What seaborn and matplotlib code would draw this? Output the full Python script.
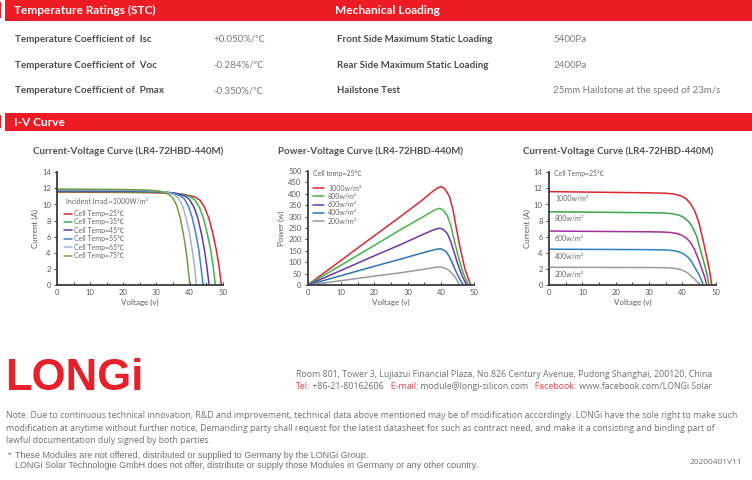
import matplotlib
matplotlib.use('Agg')
import matplotlib.pyplot as plt
import seaborn as sns
import pandas as pd
from matplotlib.patches import Rectangle
from matplotlib.ticker import MultipleLocator

# Tabele sa parametrima
temp_params = ['Temperature Coefficient of  Isc', 'Temperature Coefficient of  Voc',
               'Temperature Coefficient of  Pmax']
temp_values = ['+0.050%/℃', '-0.284%/℃', '-0.350%/℃']
mech_params = ['Front Side Maximum Static Loading', 'Rear Side Maximum Static Loading', 'Hailstone Test']
mech_values = ['5400Pa', '2400Pa', '25mm Hailstone at the speed of 23m/s']

# I-V kriva za razlicite temperature (ocitano sa slike)
temp_labels = ['Cell Temp=25℃', 'Cell Temp=35℃', 'Cell Temp=45℃',
               'Cell Temp=55℃', 'Cell Temp=65℃', 'Cell Temp=75℃']
temp_colors = ['#d7282f', '#3cb54a', '#6239a0', '#3a84c9', '#a3b4cf', '#6e9c40']
t25_v = [0, 24.8, 32.2, 35.7, 38.2, 40.2, 41.7, 43.2, 44.6, 45.9, 47.1, 48.1, 48.9, 49.6]
t25_i = [11.55, 11.49, 11.43, 11.38, 11.26, 11.09, 10.91, 10.51, 9.59, 8.20, 6.24, 4.27, 2.31, 0]
t35_v = [0, 23.9, 31.1, 34.4, 36.8, 38.7, 40.2, 41.6, 43.0, 44.2, 45.4, 46.4, 47.1, 47.8]
t35_i = [11.62, 11.56, 11.50, 11.45, 11.33, 11.16, 10.98, 10.57, 9.64, 8.25, 6.27, 4.30, 2.32, 0]
t45_v = [0, 23.0, 29.8, 33.0, 35.3, 37.2, 38.6, 39.9, 41.3, 42.5, 43.6, 44.5, 45.2, 45.9]
t45_i = [11.70, 11.64, 11.58, 11.52, 11.41, 11.23, 11.06, 10.65, 9.71, 8.31, 6.32, 4.33, 2.34, 0]
t55_v = [0, 22.1, 28.7, 31.8, 34.0, 35.7, 37.0, 38.4, 39.7, 40.8, 41.9, 42.8, 43.4, 44.1]
t55_i = [11.77, 11.71, 11.65, 11.59, 11.48, 11.30, 11.12, 10.71, 9.77, 8.36, 6.36, 4.35, 2.35, 0]
t65_v = [0, 21.1, 27.4, 30.3, 32.4, 34.1, 35.4, 36.6, 37.9, 38.9, 40.0, 40.8, 41.5, 42.1]
t65_i = [11.85, 11.79, 11.73, 11.67, 11.55, 11.38, 11.20, 10.78, 9.84, 8.41, 6.40, 4.38, 2.37, 0]
t75_v = [0, 20.1, 26.1, 28.9, 30.9, 32.5, 33.7, 34.9, 36.1, 37.1, 38.1, 38.9, 39.5, 40.1]
t75_i = [11.92, 11.86, 11.80, 11.74, 11.62, 11.44, 11.26, 10.85, 9.89, 8.46, 6.44, 4.41, 2.38, 0]

# P-V kriva za razlicita zracenja
irr_labels = ['1000w/m²', '800w/m²', '600w/m²', '400w/m²', '200w/m²']
pv_colors = ['#d42a33', '#45b649', '#6d36a6', '#2e74b5', '#9a9a9a']
p1000_v = [0, 10, 20, 28, 34, 37.5, 39, 40, 41, 42.5, 43.6, 44.6, 45.8, 47.2, 48.9]
p1000_p = [0, 108, 216, 302, 368, 410, 426, 431, 424, 390, 330, 250, 160, 70, 0]
p800_v = [0, 10, 20, 28, 34, 37.3, 38.6, 39.5, 40.5, 41.9, 43.0, 44.0, 45.2, 46.6, 48.2]
p800_p = [0, 87, 174, 244, 294, 322, 332, 336, 331, 304, 257, 195, 125, 55, 0]
p600_v = [0, 10, 20, 28, 34, 37.3, 38.7, 39.7, 40.6, 41.9, 42.9, 43.9, 45.0, 46.3, 47.7]
p600_p = [0, 64, 128, 178, 218, 239, 246, 249, 245, 226, 192, 146, 94, 41, 0]
p400_v = [0, 10, 20, 28, 34, 37.3, 38.7, 39.7, 40.5, 41.7, 42.6, 43.5, 44.5, 45.6, 46.7]
p400_p = [0, 41, 82, 114, 139, 152, 157, 159, 156, 144, 122, 93, 60, 26, 0]
p200_v = [0, 10, 20, 28, 34, 37, 38.5, 39.5, 40.5, 41.6, 42.6, 43.5, 44.3, 45.0, 45.5]
p200_p = [0, 19, 39, 54, 67, 74, 78, 79, 77, 71, 61, 48, 33, 17, 0]

# I-V kriva za razlicita zracenja
iv_colors = ['#d9262e', '#3aa64a', '#a52e9e', '#2f7fc1', '#9b9b9b']
g1000_v = [0, 10, 20, 30, 35, 37.5, 39.5, 41, 42.5, 43.8, 45, 46.3, 47.4, 48.2, 48.8]
g1000_i = [11.6, 11.55, 11.5, 11.45, 11.4, 11.3, 11.1, 10.75, 10.1, 9.1, 7.7, 5.4, 3.3, 1.7, 0]
g800_v = [0, 10, 20, 30, 34.5, 36.9, 38.8, 40.3, 41.8, 43.1, 44.3, 45.5, 46.6, 47.4, 48.0]
g800_i = [9.1, 9.06, 9.02, 8.98, 8.94, 8.86, 8.7, 8.43, 7.92, 7.14, 6.04, 4.24, 2.59, 1.33, 0]
g600_v = [0, 10, 20, 30, 34, 36.3, 38.3, 39.7, 41.2, 42.5, 43.6, 44.9, 45.9, 46.7, 47.3]
g600_i = [6.7, 6.67, 6.64, 6.61, 6.58, 6.53, 6.41, 6.21, 5.83, 5.26, 4.45, 3.12, 1.91, 0.98, 0]
g400_v = [0, 10, 20, 30, 33.3, 35.6, 37.5, 38.9, 40.3, 41.6, 42.7, 43.9, 45.0, 45.7, 46.3]
g400_i = [4.45, 4.43, 4.41, 4.39, 4.37, 4.34, 4.26, 4.13, 3.88, 3.49, 2.95, 2.07, 1.27, 0.65, 0]
g200_v = [0, 10, 20, 30, 32.5, 34.7, 36.6, 38.0, 39.4, 40.6, 41.7, 42.9, 43.9, 44.6, 45.2]
g200_i = [2.2, 2.19, 2.18, 2.17, 2.16, 2.15, 2.11, 2.04, 1.92, 1.73, 1.46, 1.03, 0.63, 0.32, 0]

# Pravim tabele za seaborn
def frame(vs, ys, names, ycol):
    parts = [pd.DataFrame({'V': v, ycol: y, 'curve': n}) for v, y, n in zip(vs, ys, names)]
    return pd.concat(parts, ignore_index=True)

df_temp = frame([t25_v, t35_v, t45_v, t55_v, t65_v, t75_v],
                [t25_i, t35_i, t45_i, t55_i, t65_i, t75_i], temp_labels, 'I')
df_pv = frame([p1000_v, p800_v, p600_v, p400_v, p200_v],
              [p1000_p, p800_p, p600_p, p400_p, p200_p], irr_labels, 'P')
df_iv = frame([g1000_v, g800_v, g600_v, g400_v, g200_v],
              [g1000_i, g800_i, g600_i, g400_i, g200_i], irr_labels, 'I')

sns.set_style('ticks')
plt.rcParams['font.family'] = ['Lato', 'Noto Sans CJK SC', 'DejaVu Sans']

W, H = 752, 480
fig = plt.figure(figsize=(W / 100, H / 100), dpi=100)
RED = '#ed1c24'
DARK = '#4a4a4a'
GRAY = '#7a7a7a'


def fx(px):
    return px / W


def fy(py):
    return 1 - py / H


# Crvene trake sa naslovima
def red_bar(y0, y1):
    fig.add_artist(Rectangle((fx(5), fy(y1)), 1 - fx(5), (y1 - y0) / H,
                             transform=fig.transFigure, color=RED, lw=0))
    fig.add_artist(Rectangle((0, fy(y1 - 3)), fx(1.5), (y1 - y0 - 5) / H,
                             transform=fig.transFigure, color=RED, lw=0))


red_bar(0, 21)
red_bar(113, 131)
fig.text(fx(14), fy(10.5), 'Temperature Ratings (STC)', color='white', fontsize=8.6,
         weight='bold', va='center')
fig.text(fx(335), fy(10.5), 'Mechanical Loading', color='white', fontsize=8.6,
         weight='bold', va='center')
fig.text(fx(14), fy(122), 'I-V Curve', color='white', fontsize=8.6, weight='bold', va='center')

row_y = [39, 65.3, 90.7]
for y, p, v in zip(row_y, temp_params, temp_values):
    fig.text(fx(15), fy(y), p, color=DARK, fontsize=7, weight='bold', va='center')
    fig.text(fx(213), fy(y), v, color=GRAY, fontsize=7, va='center')
for y, p, v in zip(row_y, mech_params, mech_values):
    fig.text(fx(337), fy(y), p, color=DARK, fontsize=7, weight='bold', va='center')
    fig.text(fx(553), fy(y), v, color=GRAY, fontsize=7, va='center')

# Naslovi grafika
titles = ['Current-Voltage Curve (LR4-72HBD-440M)', 'Power-Voltage Curve (LR4-72HBD-440M)',
          'Current-Voltage Curve (LR4-72HBD-440M)']
for cx, t in zip([128, 370, 618], titles):
    fig.text(fx(cx), fy(151), t, color='#505050', fontsize=7, weight='bold', ha='center', va='center')


def style(ax, ymax, ystep, ylabel):
    ax.set_xlim(0, 50)
    ax.set_ylim(0, ymax)
    ax.xaxis.set_major_locator(MultipleLocator(10))
    ax.xaxis.set_minor_locator(MultipleLocator(5))
    ax.yaxis.set_major_locator(MultipleLocator(ystep))
    ax.tick_params(axis='x', which='both', direction='in', length=2.5, width=0.7,
                   color='#444444', labelcolor='#5a5a5a', labelsize=5.5, pad=3)
    ax.tick_params(axis='y', direction='out', length=2.5, width=0.7,
                   color='#444444', labelcolor='#5a5a5a', labelsize=5.5, pad=2)
    sns.despine(ax=ax)
    for s in ['left', 'bottom']:
        ax.spines[s].set_color('#3c3c3c')
        ax.spines[s].set_linewidth(1.3)
    ax.set_xlabel('Voltage (v)', fontsize=5.8, color='#5a5a5a', labelpad=2)
    ax.set_ylabel(ylabel, fontsize=5.8, color='#5a5a5a', labelpad=2)
    ax.set_facecolor('white')


# Grafik 1: I-V pri razlicitim temperaturama
ax1 = fig.add_axes([fx(57), fy(285), 165.7 / W, 112.7 / H])
sns.lineplot(data=df_temp, x='V', y='I', hue='curve', hue_order=temp_labels, palette=temp_colors,
             sort=False, estimator=None, lw=1.1, ax=ax1)
style(ax1, 14, 2, 'Current (A)')
sns.move_legend(ax1, 'upper left', bbox_to_anchor=(0.04, 0.665), frameon=False, title=None,
                fontsize=5, handlelength=1.2, handletextpad=0.3, labelspacing=0.2,
                borderpad=0, borderaxespad=0, labelcolor='#666666')
ax1.text(0.053, 0.739, 'Incident Irrad.=1000W/m²', transform=ax1.transAxes, fontsize=5,
         color='#666666', va='center')

# Grafik 2: P-V pri razlicitim zracenjima
ax2 = fig.add_axes([fx(307.7), fy(285), 166.6 / W, 114 / H])
sns.lineplot(data=df_pv, x='V', y='P', hue='curve', hue_order=irr_labels, palette=pv_colors,
             sort=False, estimator=None, lw=1.1, ax=ax2)
style(ax2, 500, 50, 'Power (w)')
sns.move_legend(ax2, 'upper left', bbox_to_anchor=(0.03, 0.88), frameon=False, title=None,
                fontsize=5, handlelength=1.6, handletextpad=0.6, labelspacing=0.18,
                borderpad=0, borderaxespad=0, labelcolor='#666666')
ax2.text(0.032, 0.982, 'Cell temp=25℃', transform=ax2.transAxes, fontsize=5,
         color='#666666', va='center')

# Grafik 3: I-V pri razlicitim zracenjima
ax3 = fig.add_axes([fx(549), fy(285), 166.7 / W, 112.7 / H])
sns.lineplot(data=df_iv, x='V', y='I', hue='curve', hue_order=irr_labels, palette=iv_colors,
             sort=False, estimator=None, lw=1.1, ax=ax3, legend=False)
style(ax3, 14, 2, 'Current (A)')
ax3.text(0.03, 0.99, 'Cell Temp=25℃', transform=ax3.transAxes, fontsize=5,
         color='#666666', va='center')
for lab, cur in zip(irr_labels, [g1000_i, g800_i, g600_i, g400_i, g200_i]):
    ax3.annotate(lab, (1.8, cur[0]), xytext=(0, -5), textcoords='offset points',
                 fontsize=5, color='#666666', va='center')

# Logo i kontakt
fig.text(fx(5), fy(390), 'LONGi', color='#e8202a', fontsize=31.5, weight='bold',
         family='Liberation Sans', va='baseline')

body = dict(fontsize=6.35, family=['Open Sans', 'DejaVu Sans'], va='center')
fig.text(fx(296), fy(374.3), 'Room 801, Tower 3, Lujiazui Financial Plaza, No.826 Century Avenue, '
         'Pudong Shanghai, 200120, China', color='#707070', **body)

renderer = fig.canvas.get_renderer()
x = fx(296)
contact = [('Tel:', '#e8424a'), (' +86-21-80162606', '#707070'), ('   E-mail:', '#e8424a'),
           (' module@longi-silicon.com', '#707070'), ('   Facebook:', '#e8424a'),
           (' www.facebook.com/LONGi Solar', '#707070')]
for s, c in contact:
    t = fig.text(x, fy(386.7), s, color=c, **body)
    x += t.get_window_extent(renderer=renderer).width / W

note = ['Note: Due to continuous technical innovation, R&D and improvement, technical data above mentioned '
        'may be of modification accordingly. LONGi have the sole right to make such',
        'modification at anytime without further notice; Demanding party shall request for the latest '
        'datasheet for such as contract need, and make it a consisting and binding part of',
        'lawful documentation duly signed by both parties.']
body['fontsize'] = 6.3
for y, line in zip([416, 428.7, 440.5], note):
    fig.text(fx(6.5), fy(y), line, color='#707070', **body)

foot = dict(fontsize=6.45, family='Liberation Sans', color='#707070', va='center')
fig.text(fx(8), fy(455), '*', **foot)
fig.text(fx(15.5), fy(455.3), 'These Modules are not offered, distributed or supplied to Germany by the LONGi Group.', **foot)
fig.text(fx(15.5), fy(465.3), 'LONGi Solar Technologie GmbH does not offer, distribute or supply those Modules '
         'in Germany or any other country.', **foot)
fig.text(fx(742), fy(462), '20200401V11', color='#707070', fontsize=6,
         family=['Open Sans', 'DejaVu Sans'], ha='right', va='center')

fig.savefig('out.png', dpi=100, facecolor='white')
